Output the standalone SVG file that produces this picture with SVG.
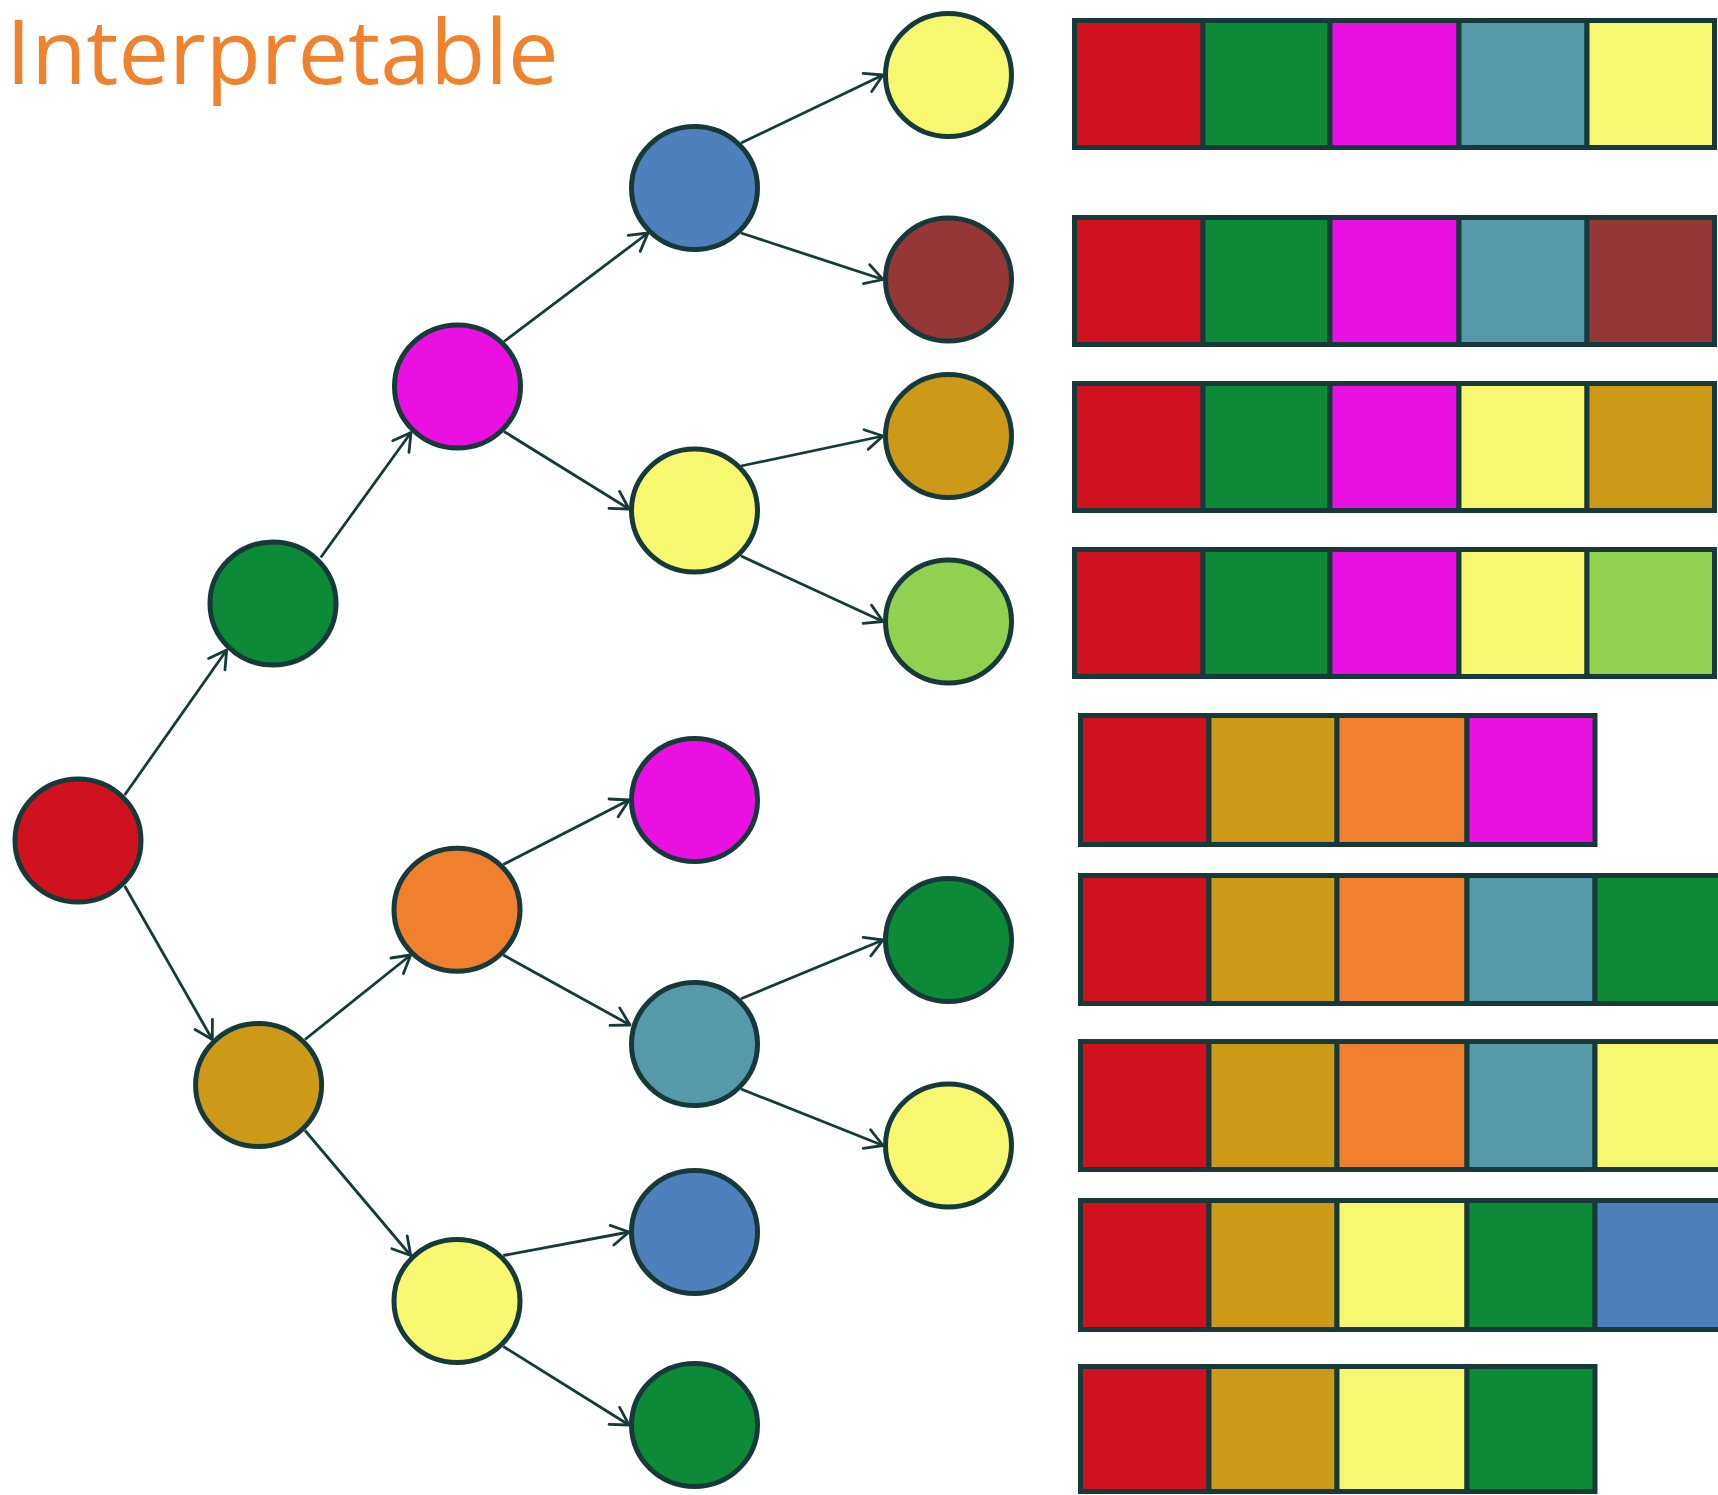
<svg xmlns="http://www.w3.org/2000/svg" width="1718" height="1495" viewBox="0 0 1718 1495">
<defs>
<style>
.n{stroke:#163a3a;stroke-width:5}
.c{stroke:#163a3a;stroke-width:5}
.e{fill:none;stroke:#163a3a;stroke-width:2.8;marker-end:url(#arr)}
.red{fill:#D0121F}.grn{fill:#0D8A37}.mag{fill:#EA10E2}.tea{fill:#569AAA}.yel{fill:#F8F870}
.brn{fill:#953736}.gld{fill:#CC9A16}.org{fill:#F0802D}.blu{fill:#4E80BC}.lgr{fill:#92D050}
.title{font-family:"Open Sans","Noto Sans",sans-serif;font-size:90px;fill:#F0822E}
</style>
<marker id="arr" markerUnits="userSpaceOnUse" viewBox="-22 -14 26 28" markerWidth="26" markerHeight="28" refX="0" refY="0" orient="auto">
<path d="M-17.3,-10 L0,0 L-17.3,10" fill="none" stroke="#163a3a" stroke-width="2.8" stroke-linecap="round" stroke-linejoin="round"/>
</marker>
</defs>
<rect width="1718" height="1495" fill="#ffffff"/>
<text class="title" x="6" y="84">Interpretable</text>

<g id="connectors">
<line class="e" x1="124.7" y1="795" x2="226.7" y2="650"/>
<line class="e" x1="124.7" y1="886" x2="212.3" y2="1039.5"/>
<line class="e" x1="320.7" y1="557.5" x2="411" y2="432.5"/>
<line class="e" x1="504" y1="341.5" x2="648" y2="233"/>
<line class="e" x1="504" y1="431.5" x2="629" y2="509"/>
<line class="e" x1="741" y1="143" x2="883" y2="75"/>
<line class="e" x1="741" y1="233" x2="883" y2="279.5"/>
<line class="e" x1="741" y1="466" x2="883" y2="436"/>
<line class="e" x1="741" y1="556" x2="883" y2="621.5"/>
<line class="e" x1="305" y1="1039.5" x2="410.7" y2="955"/>
<line class="e" x1="305" y1="1130.5" x2="410.7" y2="1255.5"/>
<line class="e" x1="503.3" y1="864.5" x2="629" y2="800"/>
<line class="e" x1="503.3" y1="955" x2="630" y2="1025"/>
<line class="e" x1="741" y1="998.7" x2="883" y2="940"/>
<line class="e" x1="741" y1="1089" x2="883" y2="1145.5"/>
<line class="e" x1="503.3" y1="1255.5" x2="629" y2="1232"/>
<line class="e" x1="503.3" y1="1346.5" x2="629" y2="1425"/>
</g>

<g id="node-root"><ellipse class="n red" cx="78" cy="840.5" rx="63" ry="61.5"/></g>
<g id="node-green1"><ellipse class="n grn" cx="273" cy="603.5" rx="63" ry="61.5"/></g>
<g id="node-gold1"><ellipse class="n gld" cx="258.6" cy="1085" rx="63" ry="61.5"/></g>
<g id="node-magenta2"><ellipse class="n mag" cx="457.5" cy="386.5" rx="63" ry="61.5"/></g>
<g id="node-orange2"><ellipse class="n org" cx="457" cy="909.7" rx="63" ry="61.5"/></g>
<g id="node-yellow2"><ellipse class="n yel" cx="457" cy="1301" rx="63" ry="61.5"/></g>
<g id="node-blue3"><ellipse class="n blu" cx="694.5" cy="188" rx="63" ry="61.5"/></g>
<g id="node-yellow3"><ellipse class="n yel" cx="694.5" cy="510.5" rx="63" ry="61.5"/></g>
<g id="node-magenta3"><ellipse class="n mag" cx="694.5" cy="800" rx="63" ry="61.5"/></g>
<g id="node-teal3"><ellipse class="n tea" cx="694.5" cy="1044" rx="63" ry="61.5"/></g>
<g id="node-blue3b"><ellipse class="n blu" cx="694.5" cy="1232" rx="63" ry="61.5"/></g>
<g id="node-green3b"><ellipse class="n grn" cx="694.5" cy="1425" rx="63" ry="61.5"/></g>
<g id="node-yellow4"><ellipse class="n yel" cx="948.5" cy="75" rx="63" ry="61.5"/></g>
<g id="node-brown4"><ellipse class="n brn" cx="948.5" cy="279.5" rx="63" ry="61.5"/></g>
<g id="node-gold4"><ellipse class="n gld" cx="948.5" cy="436" rx="63" ry="61.5"/></g>
<g id="node-lgreen4"><ellipse class="n lgr" cx="948.5" cy="621.5" rx="63" ry="61.5"/></g>
<g id="node-green4"><ellipse class="n grn" cx="948.5" cy="940" rx="63" ry="61.5"/></g>
<g id="node-yellow4b"><ellipse class="n yel" cx="948.5" cy="1145.5" rx="63" ry="61.5"/></g>

<g id="bar1">
<rect class="c red" x="1074.5" y="20.5" width="128.5" height="127"/>
<rect class="c grn" x="1203" y="20.5" width="127" height="127"/>
<rect class="c mag" x="1330" y="20.5" width="129" height="127"/>
<rect class="c tea" x="1459" y="20.5" width="128" height="127"/>
<rect class="c yel" x="1587" y="20.5" width="127.5" height="127"/>
</g>
<g id="bar2">
<rect class="c red" x="1074.5" y="217.5" width="128.5" height="127"/>
<rect class="c grn" x="1203" y="217.5" width="127" height="127"/>
<rect class="c mag" x="1330" y="217.5" width="129" height="127"/>
<rect class="c tea" x="1459" y="217.5" width="128" height="127"/>
<rect class="c brn" x="1587" y="217.5" width="127.5" height="127"/>
</g>
<g id="bar3">
<rect class="c red" x="1074.5" y="383.5" width="128.5" height="127"/>
<rect class="c grn" x="1203" y="383.5" width="127" height="127"/>
<rect class="c mag" x="1330" y="383.5" width="129" height="127"/>
<rect class="c yel" x="1459" y="383.5" width="128" height="127"/>
<rect class="c gld" x="1587" y="383.5" width="127.5" height="127"/>
</g>
<g id="bar4">
<rect class="c red" x="1074.5" y="549.5" width="128.5" height="127"/>
<rect class="c grn" x="1203" y="549.5" width="127" height="127"/>
<rect class="c mag" x="1330" y="549.5" width="129" height="127"/>
<rect class="c yel" x="1459" y="549.5" width="128" height="127"/>
<rect class="c lgr" x="1587" y="549.5" width="127.5" height="127"/>
</g>
<g id="bar5">
<rect class="c red" x="1080.5" y="715.5" width="128.5" height="129"/>
<rect class="c gld" x="1209" y="715.5" width="128" height="129"/>
<rect class="c org" x="1337" y="715.5" width="130" height="129"/>
<rect class="c mag" x="1467" y="715.5" width="128" height="129"/>
</g>
<g id="bar6">
<rect class="c red" x="1080.5" y="875.5" width="128.5" height="128"/>
<rect class="c gld" x="1209" y="875.5" width="128" height="128"/>
<rect class="c org" x="1337" y="875.5" width="130" height="128"/>
<rect class="c tea" x="1467" y="875.5" width="128" height="128"/>
<rect class="c grn" x="1595" y="875.5" width="130" height="128"/>
</g>
<g id="bar7">
<rect class="c red" x="1080.5" y="1041.5" width="128.5" height="128"/>
<rect class="c gld" x="1209" y="1041.5" width="128" height="128"/>
<rect class="c org" x="1337" y="1041.5" width="130" height="128"/>
<rect class="c tea" x="1467" y="1041.5" width="128" height="128"/>
<rect class="c yel" x="1595" y="1041.5" width="130" height="128"/>
</g>
<g id="bar8">
<rect class="c red" x="1080.5" y="1200.5" width="128.5" height="129"/>
<rect class="c gld" x="1209" y="1200.5" width="128" height="129"/>
<rect class="c yel" x="1337" y="1200.5" width="130" height="129"/>
<rect class="c grn" x="1467" y="1200.5" width="128" height="129"/>
<rect class="c blu" x="1595" y="1200.5" width="130" height="129"/>
</g>
<g id="bar9">
<rect class="c red" x="1080.5" y="1366.5" width="128.5" height="125"/>
<rect class="c gld" x="1209" y="1366.5" width="128" height="125"/>
<rect class="c yel" x="1337" y="1366.5" width="130" height="125"/>
<rect class="c grn" x="1467" y="1366.5" width="128" height="125"/>
</g>
</svg>
